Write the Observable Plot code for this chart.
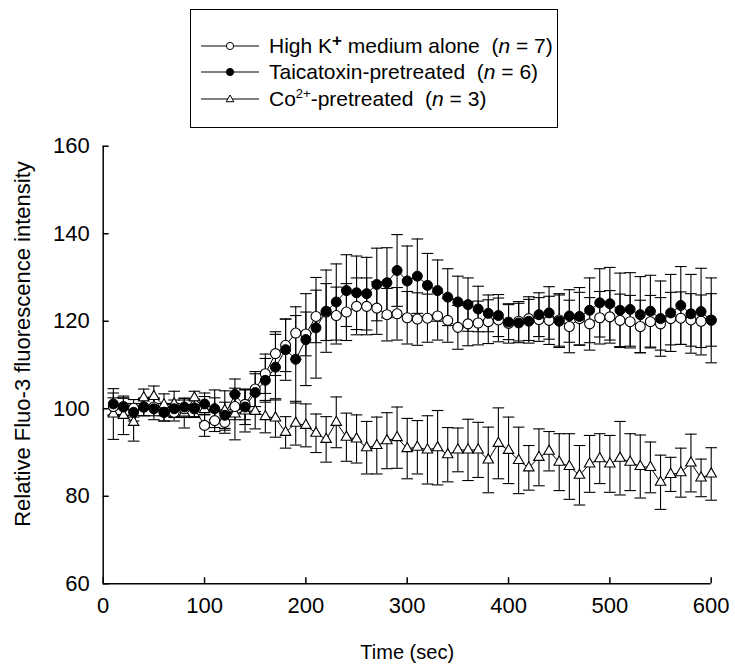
<!DOCTYPE html>
<html><head><meta charset="utf-8">
<script src="https://cdn.jsdelivr.net/npm/d3@7"></script>
<script src="https://cdn.jsdelivr.net/npm/@observablehq/plot@0.6"></script>
<style>
html,body{margin:0;padding:0;background:#fff;}
body{width:735px;height:667px;overflow:hidden;font-family:"Liberation Sans",Arial,sans-serif;color:#000;}
#legend{position:relative;height:130px;}
#box{position:absolute;left:190px;top:9px;width:368px;height:119px;border:1px solid #000;box-sizing:border-box;}
.row{position:absolute;left:9px;height:26px;display:flex;align-items:center;font-size:21px;white-space:pre;}
.row svg{margin-right:9px;}
.sup1{font-size:17px;position:relative;top:-7px;font-weight:bold;}
.sup2{font-size:13px;position:relative;top:-8px;}
#chart svg{display:block;}
</style></head><body>
<div id="legend"><div id="box"></div></div>
<div id="chart"></div>
<script>
// ---- data ----
const time = [10,20,30,40,50,60,70,80,90,100,110,120,130,140,150,160,170,180,190,200,
  210,220,230,240,250,260,270,280,290,300,310,320,330,340,350,360,370,380,390,400,
  410,420,430,440,450,460,470,480,490,500,510,520,530,540,550,560,570,580,590,600];

const highK = [100.5,100.5,100.1,100.4,100.4,99.2,99.2,100,100,96.2,97.3,96.9,100.5,101,104.5,108,112.6,114.5,117.3,117.1,
  121.1,122.1,121.3,122.1,123.4,123.4,123.0,121.5,121.7,120.8,120.5,120.7,121.2,120.2,118.6,119.4,119.6,119.9,120.3,119.5,
  120,120.6,120.4,120.2,120.3,118.8,120.6,119.4,120.8,121.0,120.2,119.9,118.8,119.9,119.4,120.6,120.7,120.3,120.0,120.3];
const highKse = [2,2,2,2,2,2,2,2,2,2.5,2.5,2.5,3,3.5,4,4.5,5,6,6,5,
  6,6.5,6.5,6.5,6.5,6.5,6,6,6,6,6,5.5,5.5,5,5,5,5,5,5,4.5,
  4.5,5,5,5.5,6,6,6,6,6,6,6,6,6,6,6,6,6,6,6,6];

const taica = [101.1,100.4,99.2,100.4,100.0,99.2,100.0,100.4,100.2,101.1,100.0,98.5,103.3,100.4,103.7,106.5,109.5,113.5,111.3,115.8,
  118.5,122.3,124.4,127.0,126.5,126.3,128.4,128.8,131.6,129.2,130.3,128.2,127.0,125.5,124.4,123.8,122.8,121.8,121.3,119.8,
  119.6,120.0,121.5,121.9,120.0,121.2,121.1,122.5,124.2,124.0,122.5,122.7,121.5,122.3,120.6,121.9,123.6,121.7,122.2,120.2];
const taicaSe = [2.5,2,2,2,2.5,2,2,2,2,2.5,2.5,3,3.5,4,4.3,5,7.5,7,10,10.5,
  11.5,9.4,8.7,8.2,8.4,8.3,8.3,8,8.2,8,8.5,7.3,7,6.5,5.9,6.1,5.2,4.2,4.8,4,
  4.5,5,5,6,6,6,6.6,7.4,7.8,8.3,8.5,8.4,8.7,8.2,8.6,8.8,8.9,9,9.9,9.7];

const cobalt = [98.8,98.5,96.9,102.5,102.8,100.9,101.1,99.0,102.5,99.8,100,99.6,98.8,99.5,99.4,98.2,97.9,94.6,96.7,96.2,
  94.4,93.0,96.9,93.5,93.1,91.1,91.6,92.7,93.4,90.9,91.2,90.6,91.1,89.5,90.6,90.6,90.6,88.3,92.1,90.5,
  88.2,86.5,88.9,90.3,87.8,86.8,84.8,87.4,88.6,87.4,88.7,87.8,86.8,86.6,83.2,85.0,85.4,87.6,84.2,85.1];
const cobaltSe = [5.8,4.4,4.3,2,2.4,2.5,2.9,3.4,1.5,3,4.3,4.5,5.9,4.8,4,3.7,4.4,3.6,5,4.9,
  4.4,5.2,5.8,5.5,5.5,6,6.5,6.4,7,6.9,6.1,7.8,8.5,6.2,5,7,6.3,7.5,8.1,7.6,
  7.6,5.1,6.5,4.5,6.5,7.5,6.8,6.5,5.7,6.5,8.4,6.5,7.2,5.8,6.2,3.9,5.6,6.6,4.3,6];

const xTicks = [0,100,200,300,400,500,600];
const yTicks = [60,80,100,120,140,160];
const xLabel = "Time (sec)";
const yLabel = "Relative Fluo-3 fluorescence intensity";

// ---- tables ----
const toRows = (name, vals, se) => time.map((t, i) => ({series: name, t, v: vals[i], se: se[i]}));
const rowsK = toRows("highK", highK, highKse);
const rowsT = toRows("taica", taica, taicaSe);
const rowsC = toRows("cobalt", cobalt, cobaltSe);
const all = [...rowsC, ...rowsK, ...rowsT];

const cap = {draw(ctx, size) { const w = Math.sqrt(size / Math.PI); ctx.moveTo(-w, 0); ctx.lineTo(w, 0); }};

const chart = Plot.plot({
  width: 735, height: 537,
  marginLeft: 102.7, marginRight: 24.3, marginTop: 15.7, marginBottom: 83.7,
  x: {domain: [0, 600]},
  y: {domain: [60, 160]},
  style: {fontFamily: "'Liberation Sans', Arial, sans-serif", fontSize: "22px", color: "#000", background: "#fff", overflow: "visible"},
  marks: [
    Plot.axisX({ticks: xTicks, tickSize: -6, tickPadding: 20, label: null, fontSize: 22, strokeWidth: 1.5}),
    Plot.axisY({ticks: yTicks, tickSize: -6, tickPadding: 19.5, label: null, fontSize: 22, strokeWidth: 1.5}),
    Plot.ruleX([0], {stroke: "black", strokeWidth: 1.5}),
    Plot.ruleY([60], {stroke: "black", strokeWidth: 1.5}),
    Plot.ruleX(all, {x: "t", y1: d => d.v - d.se, y2: d => d.v + d.se, stroke: "black", strokeWidth: 1.1}),
    Plot.dot(all, {x: "t", y: d => d.v + d.se, symbol: cap, r: 5.8, stroke: "black", strokeWidth: 1.1, fill: "none"}),
    Plot.dot(all, {x: "t", y: d => d.v - d.se, symbol: cap, r: 5.8, stroke: "black", strokeWidth: 1.1, fill: "none"}),
    Plot.line(all, {x: "t", y: "v", z: "series", stroke: "black", strokeWidth: 1}),
    Plot.dot(rowsC, {x: "t", y: "v", symbol: "triangle", r: 3.9, fill: "white", stroke: "black", strokeWidth: 1.1}),
    Plot.dot(rowsK, {x: "t", y: "v", r: 5, fill: "white", stroke: "black", strokeWidth: 1.1}),
    Plot.dot(rowsT, {x: "t", y: "v", r: 5, fill: "black", stroke: "black", strokeWidth: 1}),
    Plot.text([xLabel], {frameAnchor: "bottom", dy: 69, fontSize: 20, lineAnchor: "middle", textAnchor: "middle"}),
    Plot.text([yLabel], {frameAnchor: "left", dx: -80, dy: -21, rotate: -90, fontSize: 22, lineAnchor: "middle", textAnchor: "middle"})
  ]
});
document.getElementById("chart").appendChild(chart);

// ---- legend ----
const legendItems = [
  {sym: "open", html: 'High K<span class="sup1">+</span> medium alone  (<i>n</i> = 7)'},
  {sym: "filled", html: 'Taicatoxin-pretreated  (<i>n</i> = 6)'},
  {sym: "tri", html: 'Co<span class="sup2">2+</span>-pretreated  (<i>n</i> = 3)'}
];
const box = document.getElementById("box");
const rowTops = [36, 62, 89];
legendItems.forEach((it, i) => {
  const row = document.createElement("div");
  row.className = "row";
  row.style.top = (rowTops[i] - 13) + "px";
  const s = d3.create("svg").attr("width", 60).attr("height", 16);
  s.append("line").attr("x1", 1).attr("x2", 59).attr("y1", 8).attr("y2", 8).attr("stroke", "black").attr("stroke-width", 1);
  if (it.sym === "tri") {
    s.append("path").attr("d", d3.symbol(d3.symbolTriangle, 26)()).attr("transform", "translate(30,8.5)")
      .attr("fill", "white").attr("stroke", "black");
  } else {
    s.append("circle").attr("cx", 30).attr("cy", 8).attr("r", 3.6).attr("fill", it.sym === "open" ? "white" : "black").attr("stroke", "black");
  }
  row.appendChild(s.node());
  const sp = document.createElement("span");
  sp.innerHTML = it.html;
  row.appendChild(sp);
  box.appendChild(row);
});
</script>
</body></html>
